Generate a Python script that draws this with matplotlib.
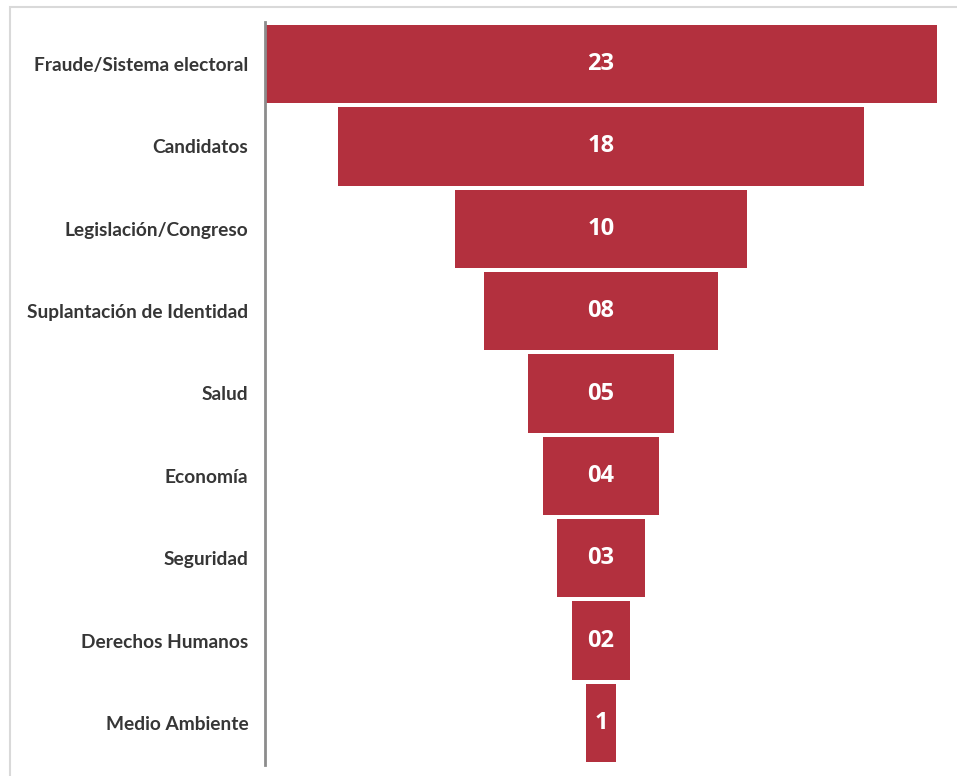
import matplotlib.pyplot as plt
from matplotlib.patches import Rectangle

categories = ['Fraude/Sistema electoral', 'Candidatos', 'Legislación/Congreso',
              'Suplantación de Identidad', 'Salud', 'Economía', 'Seguridad',
              'Derechos Humanos', 'Medio Ambiente']
values = [23, 18, 10, 8, 5, 4, 3, 2, 1]
value_labels = ['23', '18', '10', '08', '05', '04', '03', '02', '1']

bar_color = '#B3303E'

fig = plt.figure(figsize=(9.57, 7.76), dpi=100)
fig.patches.append(Rectangle((10 / 957, -0.05), 1.2, 1 - 7 / 776 + 0.05,
                             transform=fig.transFigure, fill=False,
                             edgecolor='#d9d9d9', linewidth=1.5))

ax = fig.add_axes([265 / 957, 11 / 776, 672 / 957, 743 / 776])
pos = list(range(len(values)))
lefts = [-v / 2 for v in values]
ax.barh(pos, values, left=lefts, height=0.95, color=bar_color)

for p, v, lab in zip(pos, values, value_labels):
    ax.text(0, p, lab, ha='center', va='center', color='white',
            fontsize=17, fontweight='bold', family='Open Sans')

ax.set_xlim(-11.5, 11.5)
ax.set_ylim(8.51, -0.51)
ax.set_yticks(pos)
ax.set_yticklabels(categories, fontsize=13.8, fontweight='bold',
                   family='Lato', color='#363636')
ax.tick_params(axis='y', length=0, pad=12)
ax.set_xticks([])
for s in ['top', 'right', 'bottom']:
    ax.spines[s].set_visible(False)
ax.spines['left'].set_color('#8c8c8c')
ax.spines['left'].set_linewidth(2)
ax.patch.set_alpha(0)

fig.savefig('out.png', dpi=100)
